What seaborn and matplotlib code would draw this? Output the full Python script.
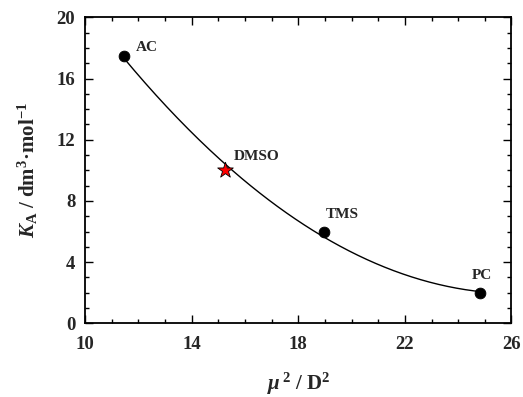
import numpy as np
import pandas as pd
import seaborn as sns
import matplotlib.pyplot as plt

sns.set_theme(style="ticks")
plt.rcParams["font.family"] = ["Liberation Serif", "DejaVu Serif"]
plt.rcParams["mathtext.fontset"] = "custom"
plt.rcParams["mathtext.rm"] = "Liberation Serif:bold"
plt.rcParams["mathtext.it"] = "Liberation Serif:bold:italic"
plt.rcParams["mathtext.bf"] = "Liberation Serif:bold"

# Solvent data: squared dipole moment vs. association constant
solvents = ["AC", "DMSO", "TMS", "PC"]
mu2 = [11.45, 15.25, 18.95, 24.8]
ka = [17.5, 10.0, 6.0, 2.0]
xticks = [10, 14, 18, 22, 26]
yticks = [0, 4, 8, 12, 16, 20]

df = pd.DataFrame({"solvent": solvents, "mu2": mu2, "ka": ka})

# smooth quadratic trend through the measured points
coef = np.polyfit(df["mu2"], df["ka"], 2)
xs = np.linspace(min(mu2), max(mu2), 200)
fit = pd.DataFrame({"mu2": xs, "ka": np.polyval(coef, xs)})

fig = plt.figure(figsize=(5.23, 3.97), dpi=100)
ax = fig.add_axes([0.1625, 0.1856, 0.8155, 0.7708])

sns.lineplot(data=fit, x="mu2", y="ka", ax=ax, color="black", lw=1.0)

circ = df[df["solvent"] != "DMSO"]
star = df[df["solvent"] == "DMSO"]
sns.scatterplot(data=circ, x="mu2", y="ka", ax=ax, color="black", s=60,
                edgecolor="black", zorder=5)
sns.scatterplot(data=star, x="mu2", y="ka", ax=ax, marker="*", color="red",
                s=140, edgecolor="black", linewidth=0.6, zorder=5)

offsets = {"AC": (0.45, 0.55), "DMSO": (0.35, 0.9), "TMS": (0.1, 1.1), "PC": (-0.3, 1.1)}
for s, x, y in zip(solvents, mu2, ka):
    dx, dy = offsets[s]
    ax.text(x + dx, y + dy, s, fontsize=11, fontweight="bold", ha="left", va="center")

ax.set_xlim(10, 26)
ax.set_ylim(0, 20)
ax.set_xticks(xticks)
ax.set_yticks(yticks)
ax.set_xticks(np.arange(10, 27, 1), minor=True)
ax.set_yticks(np.arange(0, 21, 1), minor=True)
ax.tick_params(which="both", direction="in", top=True, right=True, width=1.0, color="black")
ax.tick_params(which="major", length=6, labelsize=13.5)
ax.tick_params(which="minor", length=3)
ax.tick_params(axis="x", which="major", pad=9)
ax.tick_params(axis="y", which="major", pad=7)
for lab in ax.get_xticklabels() + ax.get_yticklabels():
    lab.set_fontweight("bold")
for sp in ax.spines.values():
    sp.set_linewidth(1.3)
    sp.set_color("black")

ax.set_xlabel(r"$\mathit{\mu}^{\,2}$ / D$^2$", fontsize=15, fontweight="bold", labelpad=13)
ax.set_ylabel(r"$K_{\rm A}$ / dm$^3$·mol$^{-1}$", fontsize=15, fontweight="bold", labelpad=12)

fig.savefig("out.png", dpi=100)
